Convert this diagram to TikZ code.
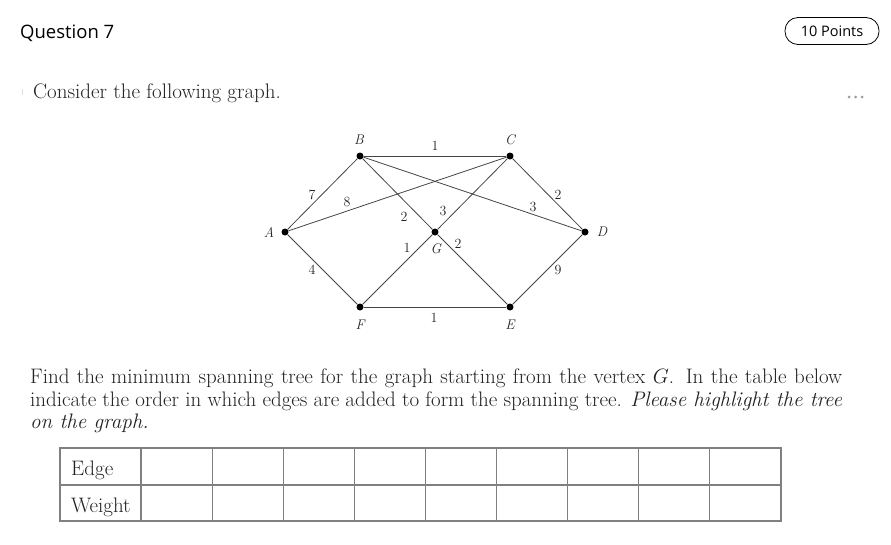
\documentclass[tikz,border=0pt]{standalone}
\usepackage{fontspec}
\newfontfamily\uifont{Open Sans}
\definecolor{txt}{HTML}{222222}
\definecolor{edgec}{HTML}{444444}
\definecolor{tabc}{HTML}{808080}
\tikzset{
  dot/.style={circle, fill=black, inner sep=0pt, minimum size=7pt},
  vlab/.style={font=\fontsize{14}{16}\selectfont\itshape, inner sep=0pt, text=txt},
  wlab/.style={font=\fontsize{14}{16}\selectfont, inner sep=0pt, text=txt},
  gedge/.style={draw=edgec, line width=0.8pt},
  body/.style={font=\fontsize{21}{23}\selectfont, text=txt, inner sep=0pt, anchor=base west},
  tline/.style={draw=tabc, line width=1.1pt},
}
\begin{document}
\begin{tikzpicture}[x=1pt,y=-1pt]
\useasboundingbox (0,0) rectangle (891,544);
% header
\node[font=\uifont\fontsize{18.5}{20}\selectfont, text=black, anchor=base west, inner sep=0pt] (q) at (20,38) {Question 7};
\node[font=\uifont\fontsize{14.5}{16}\selectfont, text=black, draw=black, line width=0.8pt, rounded corners=13pt, minimum width=94pt, minimum height=27pt, inner sep=0pt] (pts) at (832,31) {10 Points};
\fill[gray!80] (849,97) circle (1.5) (855.5,97) circle (1.5) (862,97) circle (1.5);
\fill[gray!25] (21.5,89) rectangle (22.5,95);
\node[body] (consider) at (33,98) {Consider the following graph.};
% graph
\node[dot] (A) at (285,232) {};
\node[dot] (B) at (360,156) {};
\node[dot] (C) at (510,156) {};
\node[dot] (D) at (585,232) {};
\node[dot] (E) at (510,307) {};
\node[dot] (F) at (360,307) {};
\node[dot] (G) at (435,232) {};
\draw[gedge] (B) -- (C);
\draw[gedge] (A) -- (B);
\draw[gedge] (A) -- (C);
\draw[gedge] (A) -- (F);
\draw[gedge] (B) -- (G);
\draw[gedge] (B) -- (D);
\draw[gedge] (C) -- (G);
\draw[gedge] (C) -- (D);
\draw[gedge] (G) -- (F);
\draw[gedge] (G) -- (E);
\draw[gedge] (F) -- (E);
\draw[gedge] (D) -- (E);
\node[vlab] (lA) at (269,232) {A};
\node[vlab] (lB) at (359,140) {B};
\node[vlab] (lC) at (510,140) {C};
\node[vlab] (lD) at (602,232) {D};
\node[vlab] (lE) at (510,325) {E};
\node[vlab] (lF) at (360,325) {F};
\node[vlab] (lG) at (436,249) {G};
\node[wlab] (wBC) at (435,146) {1};
\node[wlab] (wAB) at (312,195) {7};
\node[wlab] (wAC) at (347,202) {8};
\node[wlab] (wBG) at (404,217) {2};
\node[wlab] (wCG) at (443,211) {3};
\node[wlab] (wBD) at (533,207) {3};
\node[wlab] (wCD) at (558,195) {2};
\node[wlab] (wFG) at (407,248) {1};
\node[wlab] (wGE) at (458,244) {2};
\node[wlab] (wAF) at (312,270) {4};
\node[wlab] (wDE) at (558,270) {9};
\node[wlab] (wFE) at (434,318) {1};
% paragraph
\node[body] (p1) at (30,383) {\hbox to 812pt{Find the minimum spanning tree for the graph starting from the vertex $G$. In the table below}};
\node[body] (p2) at (30,406) {\hbox to 812pt{indicate the order in which edges are added to form the spanning tree. \textit{Please highlight the tree}}};
\node[body] (p3) at (30,428) {\textit{on the graph.}};
% table
\draw[tline] (60,448) rectangle (781,521);
\draw[tline] (60,485) -- (781,485);
\foreach \i in {0,...,8} {
  \draw[tline] ({141+71.11*\i},448) -- ({141+71.11*\i},521);
}
\node[body] (tE) at (71,475) {Edge};
\node[body] (tW) at (71,512) {Weight};
\end{tikzpicture}
\end{document}
